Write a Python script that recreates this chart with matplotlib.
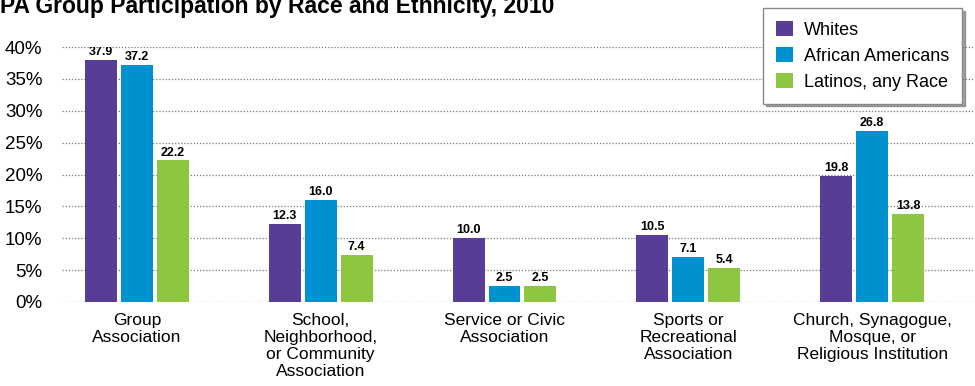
import numpy as np
import matplotlib.pyplot as plt
from matplotlib.patches import Patch

plt.rcParams['font.family'] = ['Liberation Sans', 'DejaVu Sans']

categories = ['Group\nAssociation',
              'School,\nNeighborhood,\nor Community\nAssociation',
              'Service or Civic\nAssociation',
              'Sports or\nRecreational\nAssociation',
              'Church, Synagogue,\nMosque, or\nReligious Institution']
groups = ['Whites', 'African Americans', 'Latinos, any Race']
whites = [37.9, 12.3, 10.0, 10.5, 19.8]
african_am = [37.2, 16.0, 2.5, 7.1, 26.8]
latinos = [22.2, 7.4, 2.5, 5.4, 13.8]
colors = ['#583d96', '#0092d0', '#8dc63f']

fig = plt.figure(figsize=(9.75, 3.86), dpi=100)
ax = fig.add_axes([62/975, 84/386, 1 - 62/975, 255/386])

x = np.arange(len(categories))
w = 32/184
step = 36/184
for i, (vals, c) in enumerate(zip([whites, african_am, latinos], colors)):
    pos = x + (i - 1) * step
    ax.bar(pos, vals, width=w, color=c, zorder=3)
    for px, v in zip(pos, vals):
        ax.text(px, v + 0.3, f'{v:.1f}', ha='center', va='bottom',
                fontsize=9, fontweight='bold', zorder=4, clip_on=True)

ax.set_xlim(-75/184, 4 + 103/184)
ax.set_ylim(0, 40)
ax.set_yticks(np.arange(0, 41, 5))
ax.set_yticklabels([f'{t}%' for t in range(0, 41, 5)], fontsize=13.5)
ax.set_xticks(x)
ax.set_xticklabels(categories, fontsize=12.5, linespacing=1.15)
ax.tick_params(length=0)
ax.tick_params(axis='y', pad=14)
ax.tick_params(axis='x', pad=8)
ax.grid(axis='y', linestyle=(0, (1, 1.5)), color='#777777', linewidth=0.9, zorder=0)
for s in ax.spines.values():
    s.set_visible(False)

handles = [Patch(facecolor=c, edgecolor='none') for c in colors]
leg = fig.legend(handles, groups, loc='upper right',
                 bbox_to_anchor=(962/975, 1 - 8/386), fontsize=13,
                 frameon=True, fancybox=False, shadow=True,
                 handlelength=0.95, handleheight=0.95, handletextpad=0.6,
                 borderpad=0.7, labelspacing=0.45, borderaxespad=0)
leg.get_frame().set_edgecolor('#888888')
leg.get_frame().set_linewidth(1.0)

fig.text(0, 1 - 13/386, 'PA Group Participation by Race and Ethnicity, 2010',
         fontsize=16.5, fontweight='bold', va='baseline', ha='left')

fig.savefig('out.png', dpi=100)
